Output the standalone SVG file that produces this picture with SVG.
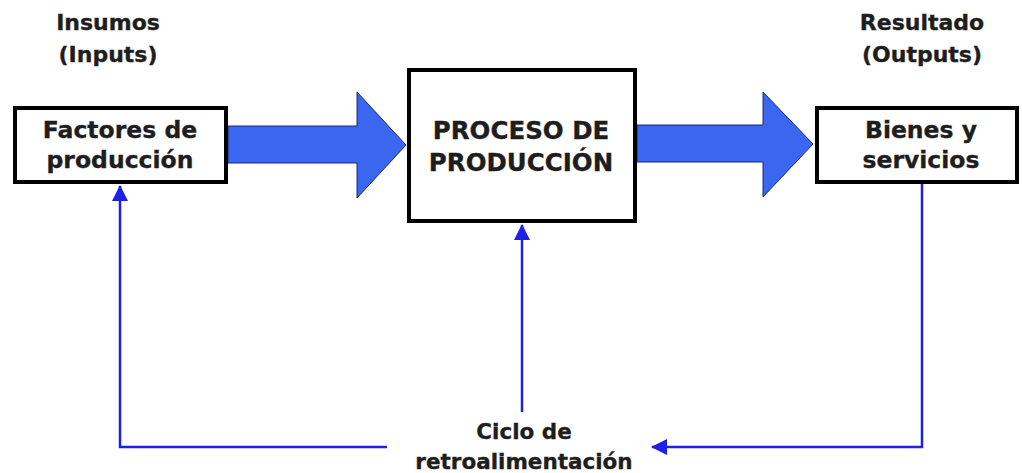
<svg xmlns="http://www.w3.org/2000/svg" width="1022" height="473" viewBox="0 0 1022 473">
<defs>
<style>
.lbl{font-family:"DejaVu Sans",Verdana,sans-serif;font-weight:bold;fill:#1e1e1e;stroke:#1e1e1e;stroke-width:0.35;text-anchor:middle}
.box{fill:#fff;stroke:#000;stroke-width:4}
.big{fill:#3a66f0;stroke:#1a2a7a;stroke-width:1}
.fb{fill:none;stroke:#1f1fe6;stroke-width:2.5}
</style>
<marker id="ah" viewBox="0 0 16 16" refX="15" refY="8" markerWidth="16" markerHeight="16" markerUnits="userSpaceOnUse" orient="auto">
<path d="M0,0 L16,8 L0,16 Z" fill="#1f1fe6"/>
</marker>
</defs>
<rect width="1022" height="473" fill="#fff"/>
<g id="insumos-label">
<text class="lbl" x="108" y="30" font-size="22">Insumos</text>
<text class="lbl" x="108" y="62" font-size="22">(Inputs)</text>
</g>
<g id="resultado-label">
<text class="lbl" x="922" y="30" font-size="22">Resultado</text>
<text class="lbl" x="922" y="62" font-size="22">(Outputs)</text>
</g>
<g id="connectors">
<path class="big" d="M228,126 L357,126 L357,92 L406,145 L357,198 L357,163 L228,163 Z"/>
<path class="big" d="M637,125 L763,125 L763,92 L813,144 L763,197 L763,162 L637,162 Z"/>
<path class="fb" d="M387,447 L120,447 L120,186" marker-end="url(#ah)"/>
<path class="fb" d="M522,412 L522,225" marker-end="url(#ah)"/>
<path class="fb" d="M922,184 L922,447 L652,447" marker-end="url(#ah)"/>
</g>
<g id="factores">
<rect class="box" x="15" y="108" width="211" height="74"/>
<text class="lbl" x="120" y="138" font-size="23.5">Factores de</text>
<text class="lbl" x="120" y="168" font-size="23.5">producción</text>
</g>
<g id="proceso">
<rect class="box" x="409" y="70" width="226" height="151"/>
<text class="lbl" x="521" y="139" font-size="24.5">PROCESO DE</text>
<text class="lbl" x="521" y="171" font-size="24.5">PRODUCCIÓN</text>
</g>
<g id="bienes">
<rect class="box" x="817" y="108" width="200" height="74"/>
<text class="lbl" x="921" y="138" font-size="23.5">Bienes y</text>
<text class="lbl" x="921" y="168" font-size="23.5">servicios</text>
</g>
<g id="ciclo">
<text class="lbl" x="524" y="439" font-size="21.5">Ciclo de</text>
<text class="lbl" x="524" y="469" font-size="21.5">retroalimentación</text>
</g>
</svg>
